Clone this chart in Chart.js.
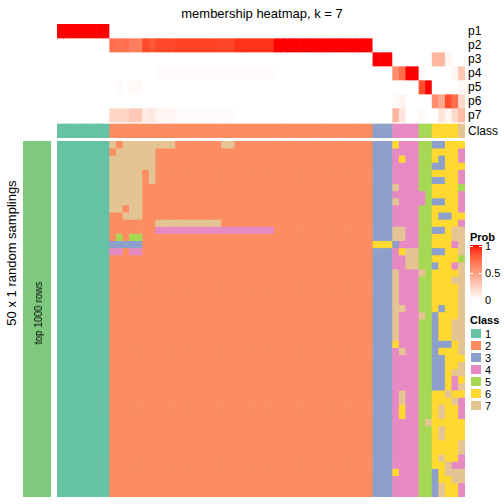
<!DOCTYPE html>
<html><head><meta charset="utf-8">
<script src="https://cdn.jsdelivr.net/npm/chart.js@4.4.1/dist/chart.umd.min.js"></script>
<style>
body{margin:0;width:504px;height:504px;background:#fff;position:relative;overflow:hidden;font-family:"Liberation Sans",Arial,Helvetica,sans-serif;color:#000}
canvas{position:absolute}
.t{position:absolute;white-space:nowrap;line-height:1}
</style></head><body>
<canvas id="annot" width="408" height="114" style="left:57px;top:24px;width:408px;height:114px"></canvas>
<canvas id="main" width="408" height="356" style="left:57px;top:141px;width:408px;height:356px"></canvas>
<canvas id="side" width="28" height="356" style="left:23px;top:141px;width:28px;height:356px"></canvas>
<canvas id="grad" width="12" height="55" style="left:470px;top:245px;width:12px;height:55px"></canvas>
<div id="txt"></div>
<script>
// ---------- data ----------
const title = "membership heatmap, k = 7";
const rowLabels = ["p1","p2","p3","p4","p5","p6","p7"];
const classNames = ["1","2","3","4","5","6","7"];
const classColors = ["#66C2A5","#FC8D62","#8DA0CB","#E78AC3","#A6D854","#FFD92F","#E5C494"];
const probTicks = ["1","0.5","0"];

const p1 = [1,1,1,1,1,1,1,1, 0,0,0,0,0,0,0,0,0,0, 0,0,0,0,0,0,0,0,0,0, 0,0,0,0,0,0,0,0,0,0, 0,0,0,0,0,0,0,0,0,0, 0,0,0,0,0,0,0,0,0,0,0,0,0,0];
const p2 = [0,0,0,0,0,0,0,0, .72,.7,.72,.65,.65,.86,.82,.87,.87,.87, .89,.89,.89,.89,.89,.89,.88,.88,.88,.93, .93,.93,.93,.93,.93,1,1,1,1,1, 1,1,1,1,1,1,1,1,1,1, 0,0,0,0,0,0,0,0,0,0,0,0,0,0];
const p3 = [0,0,0,0,0,0,0,0, 0,0,0,0,0,0,0,0,0,0, 0,0,0,0,0,0,0,0,0,0, 0,0,0,0,0,0,0,0,0,0, 0,0,0,0,0,0,0,0,0,0, 1,1,1,0,0,0,0,0,0,.38,.38,.05,0,0];
const p4 = [0,0,0,0,0,0,0,0, 0,0,0,0,0,0,0,.02,.02,.02, .02,.02,.02,.02,.02,.02,.02,.02,.02,.02, .02,.02,.02,.02,.02,0,0,0,0,0, 0,0,0,0,0,0,0,0,0,0, 0,0,0,.58,.72,1,1,.03,0,0,0,0,.05,.3];
const p5 = [0,0,0,0,0,0,0,0, 0,.03,0,.03,.03,0,0,0,0,0, 0,0,0,0,0,0,0,0,0,0, 0,0,0,0,0,0,0,0,0,0, 0,0,0,0,0,0,0,0,0,0, 0,0,0,0,0,0,0,.85,1,0,0,0,0,.03];
const p6 = [0,0,0,0,0,0,0,0, 0,0,0,0,0,0,0,0,0,0, 0,0,0,0,0,0,0,0,0,0, 0,0,0,0,0,0,0,0,0,0, 0,0,0,0,0,0,0,0,0,0, 0,0,0,.03,.06,0,0,0,0,.58,.44,.85,.72,.2];
const p7 = [0,0,0,0,0,0,0,0, .22,.22,.22,.28,.28,.1,.13,.05,.05,.05, .02,.02,.02,.02,.02,.02,.02,.02,.02,0, 0,0,0,0,0,0,0,0,0,0, 0,0,0,0,0,0,0,0,0,0, 0,0,0,.38,.14,0,0,.03,0,0,.15,.05,.2,.35];
const sampleClass = "11111111|2222222222 2222222222 2222222222 2222222222|33344445566667";

// 50 random samplings (rows) x 62 samples (columns), class per cell
const samplings = [
"11111111|7277777777 2222222772 2222222222 2222222222|33364445533666",
"11111111|2777777222 2222222222 2222222222 2222222222|33344445566664",
"11111111|7777777222 2222222222 2222222222 2222222222|33346445563664",
"11111111|7777777222 2222222222 2222222222 2222222222|33344445533666",
"11111111|7777727222 2222222222 2222222222 2222222222|33344445566664",
"11111111|7777727222 2222222222 2222222222 2222222222|33344445533664",
"11111111|7777722222 2222222222 2222222222 2222222222|33374445566665",
"11111111|7777722222 2222222222 2222222222 2222222222|33344444566664",
"11111111|7777722222 2222222222 2222222222 2222222222|33374444533664",
"11111111|7727722222 2222222222 2222222222 2222222222|33344445566664",
"11111111|2277722222 2222222222 2222222222 2222222222|33344445563366",
"11111111|2222222777 7777777222 2222222222 2222222222|33344445566664",
"11111111|2222222444 4444444444 4444422222 2222222222|33377445533677",
"11111111|2525522222 2222222222 2222222222 2222222222|33377445566677",
"11111111|3333322222 2222222222 2222222222 2222222222|66634445566647",
"11111111|4424422222 2222222222 2222222222 2222222222|33346775533667",
"11111111|2222222222 2222222222 2222222222 2222222222|33344775566665",
"11111111|2222222222 2222222222 2222222222 2222222222|33344775536647",
"11111111|2222222222 2222222222 2222222222 2222222222|33374447566667",
"11111111|2222222222 2222222222 2222222222 2222222222|33374445566677",
"11111111|2222222222 2222222222 2222222222 2222222222|33374445566667",
"11111111|2222222222 2222222222 2222222222 2222222222|33374445566667",
"11111111|2222222222 2222222222 2222222222 2222222222|33374445566667",
"11111111|2222222222 2222222222 2222222222 2222222222|33377445563667",
"11111111|2222222222 2222222222 2222222222 2222222222|33374447536667",
"11111111|2222222222 2222222222 2222222222 2222222222|33374445536677",
"11111111|2222222222 2222222222 2222222222 2222222222|33374445536677",
"11111111|2222222222 2222222222 2222222222 2222222222|33374445536677",
"11111111|2222222222 2222222222 2222222222 2222222222|33364445533367",
"11111111|2222222222 2222222222 2222222222 2222222222|33347445536667",
"11111111|2222222222 2222222222 2222222222 2222222222|33344445533666",
"11111111|2222222222 2222222222 2222222222 2222222222|33344445533667",
"11111111|2222222222 2222222222 2222222222 2222222222|33344445533677",
"11111111|2222222222 2222222222 2222222222 2222222222|33344445533646",
"11111111|2222222222 2222222222 2222222222 2222222222|33344445533647",
"11111111|2222222222 2222222222 2222222222 2222222222|33347445566766",
"11111111|2222222222 2222222222 2222222222 2222222222|33347445566674",
"11111111|2222222222 2222222222 2222222222 2222222222|33346445567664",
"11111111|2222222222 2222222222 2222222222 2222222222|33346445567664",
"11111111|2222222222 2222222222 2222222222 2222222222|33344445766666",
"11111111|2222222222 2222222222 2222222222 2222222222|33344445567666",
"11111111|2222222222 2222222222 2222222222 2222222222|33344445567666",
"11111111|2222222222 2222222222 2222222222 2222222222|33344445566667",
"11111111|2222222222 2222222222 2222222222 2222222222|33344445566667",
"11111111|2222222222 2222222222 2222222222 2222222222|33344445567664",
"11111111|2222222222 2222222222 2222222222 2222222222|33344445566744",
"11111111|2222222222 2222222222 2222222222 2222222222|33364445536777",
"11111111|2222222222 2222222222 2222222222 2222222222|33344445536677",
"11111111|2222222222 2222222222 2222222222 2222222222|33344445537664",
"11111111|2222222222 2222222222 2222222222 2222222222|33344445537664"
];

// ---------- colours ----------
function labToRgb(L,a,b){
  const fy=(L+16)/116, fx=fy+a/500, fz=fy-b/200;
  const f=t=>t>0.206893?t*t*t:(t-16/116)/7.787;
  const X=0.95047*f(fx), Y=f(fy), Z=1.08883*f(fz);
  const r=3.2406*X-1.5372*Y-0.4986*Z, g=-0.9689*X+1.8758*Y+0.0415*Z, bb=0.0557*X-0.2040*Y+1.0570*Z;
  const c=v=>{v=Math.max(0,Math.min(1,v));v=v<=0.0031308?12.92*v:1.055*Math.pow(v,1/2.4)-0.055;return Math.round(v*255);};
  return `rgb(${c(r)},${c(g)},${c(bb)})`;
}
function probColor(v){ return labToRgb(100-46.76*v, 80.09*v, 67.2*v); }
const clsColor = ch => classColors[+ch-1];
const clean = s => s.replace(/\D/g,'').split('');

// ---------- heatmap helper (floating bars on category x scale) ----------
function heatmap(id, rows, yMax){
  const ncol = rows[0].cells.length;
  const datasets = rows.map(r => ({
    data: r.cells.map(() => [r.y0, r.y0 + 1]),
    backgroundColor: r.cells.map(r.color),
    borderWidth: 0, grouped: false, barPercentage: 1, categoryPercentage: 1
  }));
  return new Chart(document.getElementById(id), {
    type: 'bar',
    data: { labels: Array.from({length: ncol}, (_, i) => 's' + (i + 1)), datasets },
    options: {
      responsive: false, animation: false, events: [],
      layout: { padding: 0 },
      plugins: { legend: { display: false }, tooltip: { enabled: false } },
      scales: {
        x: { display: false, offset: true },
        y: { display: false, min: 0, max: yMax, reverse: true }
      }
    }
  });
}

// top annotation: p1..p7 (14px each) + class row after a 2px gap
const probRows = [p1,p2,p3,p4,p5,p6,p7];
const annotRows = probRows.map((p, i) => ({ cells: p, y0: i, color: probColor }));
annotRows.push({ cells: clean(sampleClass), y0: 100/14, color: clsColor });
heatmap('annot', annotRows, 114/14);

// main membership heatmap
heatmap('main', samplings.map((s, i) => ({ cells: clean(s), y0: i, color: clsColor })), samplings.length);

// left row annotation bar
heatmap('side', [{ cells: ["all"], y0: 0, color: () => "#7FC97F" }], 1);

// gradient legend bar
(function(){
  const cv = document.getElementById('grad'), ctx = cv.getContext('2d');
  for (let y = 0; y < 55; y++) { ctx.fillStyle = probColor(1 - y/54); ctx.fillRect(0, y, 12, 1); }
  ctx.fillStyle = '#fff';
  [1, 27.5].forEach(y => { ctx.fillRect(0, Math.round(y), 3, 1); ctx.fillRect(9, Math.round(y), 3, 1); });
})();

// ---------- text ----------
const txt = document.getElementById('txt');
function addText(s, x, y, size, opts = {}) {
  const d = document.createElement('div');
  d.className = 't';
  d.textContent = s;
  d.style.fontSize = size + 'px';
  d.style.left = x + 'px';
  d.style.top = y + 'px';
  let tf = opts.center ? 'translate(-50%,-50%)' : 'translate(0,-50%)';
  if (opts.rot) tf += ' rotate(-90deg)';
  d.style.transform = tf;
  if (opts.bold) d.style.fontWeight = 'bold';
  txt.appendChild(d);
}
addText(title, 262, 13, 13, { center: true });
addText("50 x 1 random samplings", 11, 253, 13, { center: true, rot: true });
addText("top 1000 rows", 39, 313, 10, { center: true, rot: true });
rowLabels.forEach((l, i) => addText(l, 468, 31 + 14*i, 12));
addText("Class", 468, 131, 12);
addText("Prob", 470, 237, 11, { bold: true });
probTicks.forEach((l, i) => addText(l, 485, 246 + 27*i, 11));
addText("Class", 470, 320, 11, { bold: true });
classNames.forEach((l, i) => {
  const sq = document.createElement('div');
  sq.style.cssText = `position:absolute;left:471px;top:${329 + 12*i}px;width:10px;height:9px;background:${classColors[i]}`;
  txt.appendChild(sq);
  addText(l, 485, 334 + 12*i, 11);
});
</script>
</body></html>
